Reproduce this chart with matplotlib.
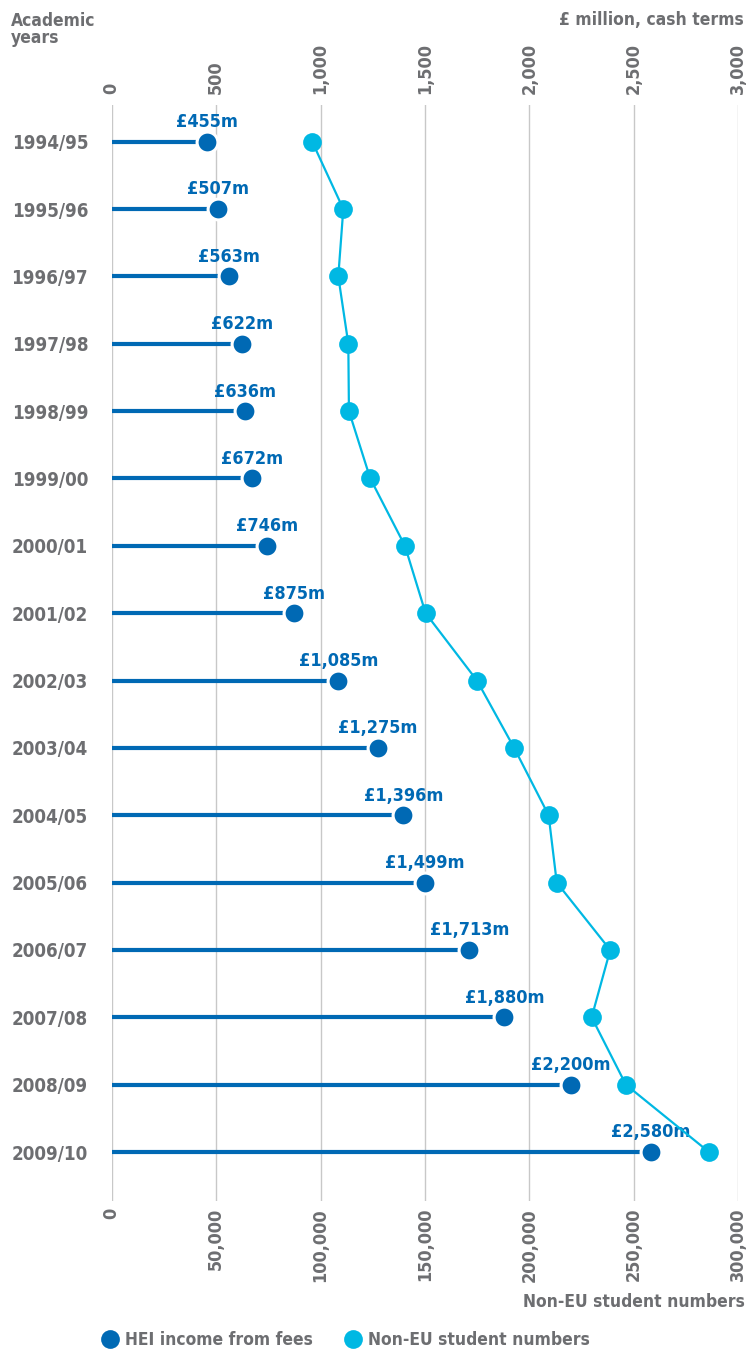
import matplotlib.pyplot as plt
from matplotlib import font_manager
from matplotlib.lines import Line2D
from matplotlib.ticker import FuncFormatter

# pick a narrow bold face if one is available
_cond = font_manager.findfont(
    font_manager.FontProperties(family='DejaVu Sans', stretch='condensed',
                                weight='bold'), fallback_to_default=True)
if 'Condensed' in _cond:
    plt.rcParams['font.family'] = ['DejaVu Sans']
    plt.rcParams['font.stretch'] = 'condensed'
else:
    plt.rcParams['font.family'] = ['Liberation Sans', 'DejaVu Sans']
plt.rcParams['font.weight'] = 'bold'

# academic years, top to bottom
years = ['1994/95', '1995/96', '1996/97', '1997/98', '1998/99', '1999/00',
         '2000/01', '2001/02', '2002/03', '2003/04', '2004/05', '2005/06',
         '2006/07', '2007/08', '2008/09', '2009/10']
# HEI income from fees, £ million
fees = [455, 507, 563, 622, 636, 672, 746, 875, 1085, 1275, 1396, 1499,
        1713, 1880, 2200, 2580]
# non-EU student numbers
students = [96000, 110900, 108500, 113300, 113600, 123800, 140400, 150300,
            174900, 192700, 209200, 213100, 238700, 229800, 246200, 286000]

fee_ticks = [0, 500, 1000, 1500, 2000, 2500, 3000]
student_ticks = [0, 50000, 100000, 150000, 200000, 250000, 300000]

DARK = '#0069b4'
LIGHT = '#00b8e3'
GREY = '#6d6e71'
GRID = '#c8c8c8'

fig = plt.figure(figsize=(7.47, 13.49), dpi=100)
ax = fig.add_axes([0.1495, 0.1097, 0.8388, 0.8125])
ax2 = ax.twiny()

rows = list(range(len(years)))

# fees: lollipop bars
for y, v in zip(rows, fees):
    ax.plot([0, v], [y, y], color=DARK, lw=3, solid_capstyle='round', zorder=3)
    ax.plot(v, y, 'o', color=DARK, ms=15, mec='white', mew=2.2, zorder=4)
    ax.annotate(f'£{v:,}m', (v, y), xytext=(0, 10.5), textcoords='offset points',
                ha='center', va='baseline', color=DARK, fontsize=13,
                fontweight='bold', zorder=5)

# student numbers: line with dots
ax2.plot(students, rows, color=LIGHT, lw=1.6, marker='o', ms=13.5,
         mew=0, zorder=3)

ax.set_xlim(0, 3000)
ax2.set_xlim(0, 300000)
ax.set_ylim(15.727, -0.545)
ax2.set_ylim(15.727, -0.545)

ax.set_xticks(fee_ticks)
ax.xaxis.set_major_formatter(FuncFormatter(lambda v, p: f'{int(v):,}'))
ax.xaxis.tick_top()
ax.tick_params(axis='x', length=0, pad=8, labelsize=13, labelcolor=GREY,
               labelrotation=90)

ax2.xaxis.tick_bottom()
ax2.set_xticks(student_ticks)
ax2.xaxis.set_major_formatter(FuncFormatter(lambda v, p: f'{int(v):,}'))
ax2.tick_params(axis='x', length=0, pad=5, labelsize=13, labelcolor=GREY,
                labelrotation=90, labeltop=False, labelbottom=True)
for lbl in ax2.get_xticklabels():
    lbl.set_va('top')

ax.set_yticks(rows)
ax.set_yticklabels(years)
ax.tick_params(axis='y', length=0, pad=17, labelsize=13.5, labelcolor=GREY)
ax2.tick_params(axis='y', length=0)

ax.grid(axis='x', color=GRID, lw=1)
ax.set_axisbelow(True)
for a in (ax, ax2):
    for s in a.spines.values():
        s.set_visible(False)

fig.text(0.015, 0.991, 'Academic\nyears', ha='left', va='top', color=GREY,
         fontsize=12.5, fontweight='bold', linespacing=0.95)
fig.text(0.995, 0.985, '£ million, cash terms', ha='right', va='center',
         color=GREY, fontsize=12.5, fontweight='bold')
fig.text(0.997, 0.0348, 'Non-EU student numbers', ha='right', va='center',
         color=GREY, fontsize=12.5, fontweight='bold')

handles = [
    Line2D([], [], ls='none', marker='o', ms=13.5, color=DARK, mew=0),
    Line2D([], [], ls='none', marker='o', ms=13.5, color=LIGHT, mew=0),
]
fig.legend(handles, ['HEI income from fees', 'Non-EU student numbers'],
           loc='center left', bbox_to_anchor=(0.136, 0.0067), ncol=2,
           frameon=False, handlelength=1.0, handletextpad=0.35,
           columnspacing=1.8, borderaxespad=0, borderpad=0,
           prop={'size': 12.5, 'weight': 'bold'}, labelcolor=GREY)

fig.savefig('out.png', dpi=100)
